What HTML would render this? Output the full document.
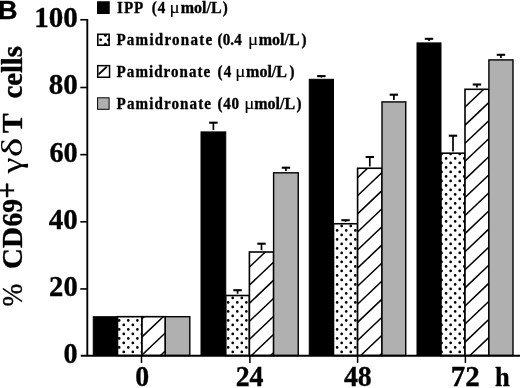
<!DOCTYPE html>
<html><head><meta charset="utf-8"><title>Figure B</title>
<style>
html,body{margin:0;padding:0;background:#fff;}
body{width:520px;height:388px;overflow:hidden;}
svg{display:block;will-change:transform;filter:grayscale(1);}
text{font-family:"Liberation Serif",serif;font-weight:bold;fill:#000;stroke:#000;stroke-width:0.35px;stroke-linejoin:round;}
.sans{font-family:"Liberation Sans",sans-serif;font-weight:bold;}
.sym{font-weight:normal;stroke-width:0.1px;}
</style></head><body>
<svg width="520" height="388" viewBox="0 0 520 388">
<rect width="520" height="388" fill="#fff"/>

<rect x="93.25" y="316.70" width="24.25" height="38.80" fill="#000" stroke="#000" stroke-width="1"/>
<clipPath id="c1"><rect x="117.50" y="316.70" width="24.50" height="38.80"/></clipPath>
<rect x="117.50" y="316.70" width="24.50" height="38.80" fill="#fff"/>
<g clip-path="url(#c1)">
<path d="M117.87,320.40a1.35,1.35 0 1,0 2.7,0a1.35,1.35 0 1,0 -2.7,0M117.87,329.40a1.35,1.35 0 1,0 2.7,0a1.35,1.35 0 1,0 -2.7,0M117.87,338.40a1.35,1.35 0 1,0 2.7,0a1.35,1.35 0 1,0 -2.7,0M117.87,347.40a1.35,1.35 0 1,0 2.7,0a1.35,1.35 0 1,0 -2.7,0M117.87,356.40a1.35,1.35 0 1,0 2.7,0a1.35,1.35 0 1,0 -2.7,0M126.95,320.40a1.35,1.35 0 1,0 2.7,0a1.35,1.35 0 1,0 -2.7,0M126.95,329.40a1.35,1.35 0 1,0 2.7,0a1.35,1.35 0 1,0 -2.7,0M126.95,338.40a1.35,1.35 0 1,0 2.7,0a1.35,1.35 0 1,0 -2.7,0M126.95,347.40a1.35,1.35 0 1,0 2.7,0a1.35,1.35 0 1,0 -2.7,0M126.95,356.40a1.35,1.35 0 1,0 2.7,0a1.35,1.35 0 1,0 -2.7,0M136.03,320.40a1.35,1.35 0 1,0 2.7,0a1.35,1.35 0 1,0 -2.7,0M136.03,329.40a1.35,1.35 0 1,0 2.7,0a1.35,1.35 0 1,0 -2.7,0M136.03,338.40a1.35,1.35 0 1,0 2.7,0a1.35,1.35 0 1,0 -2.7,0M136.03,347.40a1.35,1.35 0 1,0 2.7,0a1.35,1.35 0 1,0 -2.7,0M136.03,356.40a1.35,1.35 0 1,0 2.7,0a1.35,1.35 0 1,0 -2.7,0M122.41,315.90a1.35,1.35 0 1,0 2.7,0a1.35,1.35 0 1,0 -2.7,0M122.41,324.90a1.35,1.35 0 1,0 2.7,0a1.35,1.35 0 1,0 -2.7,0M122.41,333.90a1.35,1.35 0 1,0 2.7,0a1.35,1.35 0 1,0 -2.7,0M122.41,342.90a1.35,1.35 0 1,0 2.7,0a1.35,1.35 0 1,0 -2.7,0M122.41,351.90a1.35,1.35 0 1,0 2.7,0a1.35,1.35 0 1,0 -2.7,0M131.49,315.90a1.35,1.35 0 1,0 2.7,0a1.35,1.35 0 1,0 -2.7,0M131.49,324.90a1.35,1.35 0 1,0 2.7,0a1.35,1.35 0 1,0 -2.7,0M131.49,333.90a1.35,1.35 0 1,0 2.7,0a1.35,1.35 0 1,0 -2.7,0M131.49,342.90a1.35,1.35 0 1,0 2.7,0a1.35,1.35 0 1,0 -2.7,0M131.49,351.90a1.35,1.35 0 1,0 2.7,0a1.35,1.35 0 1,0 -2.7,0M140.57,315.90a1.35,1.35 0 1,0 2.7,0a1.35,1.35 0 1,0 -2.7,0M140.57,324.90a1.35,1.35 0 1,0 2.7,0a1.35,1.35 0 1,0 -2.7,0M140.57,333.90a1.35,1.35 0 1,0 2.7,0a1.35,1.35 0 1,0 -2.7,0M140.57,342.90a1.35,1.35 0 1,0 2.7,0a1.35,1.35 0 1,0 -2.7,0M140.57,351.90a1.35,1.35 0 1,0 2.7,0a1.35,1.35 0 1,0 -2.7,0" fill="#000"/>
</g>
<rect x="117.50" y="316.70" width="24.50" height="38.80" fill="none" stroke="#000" stroke-width="1.6"/>
<clipPath id="c2"><rect x="142.00" y="316.70" width="23.30" height="38.80"/></clipPath>
<rect x="142.00" y="316.70" width="23.30" height="38.80" fill="#fff"/>
<g clip-path="url(#c2)">
<path d="M139.00,285.51L168.30,257.67M139.00,303.59L168.30,275.75M139.00,321.67L168.30,293.83M139.00,339.75L168.30,311.91M139.00,357.83L168.30,329.99M139.00,375.91L168.30,348.07M139.00,393.99L168.30,366.15M139.00,412.07L168.30,384.23" stroke="#000" stroke-width="1.5" fill="none"/>
</g>
<rect x="142.00" y="316.70" width="23.30" height="38.80" fill="none" stroke="#000" stroke-width="1.6"/>
<rect x="165.30" y="316.70" width="24.50" height="38.80" fill="#b0b0b0" stroke="#000" stroke-width="1.4"/>
<rect x="201.00" y="131.90" width="24.75" height="223.60" fill="#000" stroke="#000" stroke-width="1"/>
<path d="M209.18,122.70 H217.57" stroke="#000" stroke-width="2.1" fill="none"/>
<path d="M213.38,122.50 V130.10" stroke="#000" stroke-width="1.7" fill="none"/>
<clipPath id="c3"><rect x="225.75" y="295.50" width="23.65" height="60.00"/></clipPath>
<rect x="225.75" y="295.50" width="23.65" height="60.00" fill="#fff"/>
<g clip-path="url(#c3)">
<path d="M226.83,302.40a1.35,1.35 0 1,0 2.7,0a1.35,1.35 0 1,0 -2.7,0M226.83,311.40a1.35,1.35 0 1,0 2.7,0a1.35,1.35 0 1,0 -2.7,0M226.83,320.40a1.35,1.35 0 1,0 2.7,0a1.35,1.35 0 1,0 -2.7,0M226.83,329.40a1.35,1.35 0 1,0 2.7,0a1.35,1.35 0 1,0 -2.7,0M226.83,338.40a1.35,1.35 0 1,0 2.7,0a1.35,1.35 0 1,0 -2.7,0M226.83,347.40a1.35,1.35 0 1,0 2.7,0a1.35,1.35 0 1,0 -2.7,0M226.83,356.40a1.35,1.35 0 1,0 2.7,0a1.35,1.35 0 1,0 -2.7,0M235.91,302.40a1.35,1.35 0 1,0 2.7,0a1.35,1.35 0 1,0 -2.7,0M235.91,311.40a1.35,1.35 0 1,0 2.7,0a1.35,1.35 0 1,0 -2.7,0M235.91,320.40a1.35,1.35 0 1,0 2.7,0a1.35,1.35 0 1,0 -2.7,0M235.91,329.40a1.35,1.35 0 1,0 2.7,0a1.35,1.35 0 1,0 -2.7,0M235.91,338.40a1.35,1.35 0 1,0 2.7,0a1.35,1.35 0 1,0 -2.7,0M235.91,347.40a1.35,1.35 0 1,0 2.7,0a1.35,1.35 0 1,0 -2.7,0M235.91,356.40a1.35,1.35 0 1,0 2.7,0a1.35,1.35 0 1,0 -2.7,0M244.99,302.40a1.35,1.35 0 1,0 2.7,0a1.35,1.35 0 1,0 -2.7,0M244.99,311.40a1.35,1.35 0 1,0 2.7,0a1.35,1.35 0 1,0 -2.7,0M244.99,320.40a1.35,1.35 0 1,0 2.7,0a1.35,1.35 0 1,0 -2.7,0M244.99,329.40a1.35,1.35 0 1,0 2.7,0a1.35,1.35 0 1,0 -2.7,0M244.99,338.40a1.35,1.35 0 1,0 2.7,0a1.35,1.35 0 1,0 -2.7,0M244.99,347.40a1.35,1.35 0 1,0 2.7,0a1.35,1.35 0 1,0 -2.7,0M244.99,356.40a1.35,1.35 0 1,0 2.7,0a1.35,1.35 0 1,0 -2.7,0M231.37,297.90a1.35,1.35 0 1,0 2.7,0a1.35,1.35 0 1,0 -2.7,0M231.37,306.90a1.35,1.35 0 1,0 2.7,0a1.35,1.35 0 1,0 -2.7,0M231.37,315.90a1.35,1.35 0 1,0 2.7,0a1.35,1.35 0 1,0 -2.7,0M231.37,324.90a1.35,1.35 0 1,0 2.7,0a1.35,1.35 0 1,0 -2.7,0M231.37,333.90a1.35,1.35 0 1,0 2.7,0a1.35,1.35 0 1,0 -2.7,0M231.37,342.90a1.35,1.35 0 1,0 2.7,0a1.35,1.35 0 1,0 -2.7,0M231.37,351.90a1.35,1.35 0 1,0 2.7,0a1.35,1.35 0 1,0 -2.7,0M240.45,297.90a1.35,1.35 0 1,0 2.7,0a1.35,1.35 0 1,0 -2.7,0M240.45,306.90a1.35,1.35 0 1,0 2.7,0a1.35,1.35 0 1,0 -2.7,0M240.45,315.90a1.35,1.35 0 1,0 2.7,0a1.35,1.35 0 1,0 -2.7,0M240.45,324.90a1.35,1.35 0 1,0 2.7,0a1.35,1.35 0 1,0 -2.7,0M240.45,333.90a1.35,1.35 0 1,0 2.7,0a1.35,1.35 0 1,0 -2.7,0M240.45,342.90a1.35,1.35 0 1,0 2.7,0a1.35,1.35 0 1,0 -2.7,0M240.45,351.90a1.35,1.35 0 1,0 2.7,0a1.35,1.35 0 1,0 -2.7,0M249.53,297.90a1.35,1.35 0 1,0 2.7,0a1.35,1.35 0 1,0 -2.7,0M249.53,306.90a1.35,1.35 0 1,0 2.7,0a1.35,1.35 0 1,0 -2.7,0M249.53,315.90a1.35,1.35 0 1,0 2.7,0a1.35,1.35 0 1,0 -2.7,0M249.53,324.90a1.35,1.35 0 1,0 2.7,0a1.35,1.35 0 1,0 -2.7,0M249.53,333.90a1.35,1.35 0 1,0 2.7,0a1.35,1.35 0 1,0 -2.7,0M249.53,342.90a1.35,1.35 0 1,0 2.7,0a1.35,1.35 0 1,0 -2.7,0M249.53,351.90a1.35,1.35 0 1,0 2.7,0a1.35,1.35 0 1,0 -2.7,0" fill="#000"/>
</g>
<rect x="225.75" y="295.50" width="23.65" height="60.00" fill="none" stroke="#000" stroke-width="1.6"/>
<path d="M233.38,290.20 H241.77" stroke="#000" stroke-width="2.1" fill="none"/>
<path d="M237.57,290.00 V293.70" stroke="#000" stroke-width="1.7" fill="none"/>
<clipPath id="c4"><rect x="249.40" y="252.00" width="24.20" height="103.50"/></clipPath>
<rect x="249.40" y="252.00" width="24.20" height="103.50" fill="#fff"/>
<g clip-path="url(#c4)">
<path d="M246.40,233.75L276.60,205.06M246.40,251.83L276.60,223.14M246.40,269.91L276.60,241.22M246.40,287.99L276.60,259.30M246.40,306.07L276.60,277.38M246.40,324.15L276.60,295.46M246.40,342.23L276.60,313.54M246.40,360.31L276.60,331.62M246.40,378.39L276.60,349.70M246.40,396.47L276.60,367.78M246.40,414.55L276.60,385.86" stroke="#000" stroke-width="1.5" fill="none"/>
</g>
<rect x="249.40" y="252.00" width="24.20" height="103.50" fill="none" stroke="#000" stroke-width="1.6"/>
<path d="M257.30,243.70 H265.70" stroke="#000" stroke-width="2.1" fill="none"/>
<path d="M261.50,243.50 V250.20" stroke="#000" stroke-width="1.7" fill="none"/>
<rect x="273.60" y="172.80" width="24.65" height="182.70" fill="#b0b0b0" stroke="#000" stroke-width="1.4"/>
<path d="M281.73,167.70 H290.12" stroke="#000" stroke-width="2.1" fill="none"/>
<path d="M285.93,167.50 V171.00" stroke="#000" stroke-width="1.7" fill="none"/>
<rect x="309.25" y="79.30" width="24.25" height="276.20" fill="#000" stroke="#000" stroke-width="1"/>
<path d="M317.18,76.10 H325.57" stroke="#000" stroke-width="2.1" fill="none"/>
<path d="M321.38,75.90 V77.50" stroke="#000" stroke-width="1.7" fill="none"/>
<clipPath id="c5"><rect x="333.50" y="223.75" width="24.10" height="131.75"/></clipPath>
<rect x="333.50" y="223.75" width="24.10" height="131.75" fill="#fff"/>
<g clip-path="url(#c5)">
<path d="M335.79,230.40a1.35,1.35 0 1,0 2.7,0a1.35,1.35 0 1,0 -2.7,0M335.79,239.40a1.35,1.35 0 1,0 2.7,0a1.35,1.35 0 1,0 -2.7,0M335.79,248.40a1.35,1.35 0 1,0 2.7,0a1.35,1.35 0 1,0 -2.7,0M335.79,257.40a1.35,1.35 0 1,0 2.7,0a1.35,1.35 0 1,0 -2.7,0M335.79,266.40a1.35,1.35 0 1,0 2.7,0a1.35,1.35 0 1,0 -2.7,0M335.79,275.40a1.35,1.35 0 1,0 2.7,0a1.35,1.35 0 1,0 -2.7,0M335.79,284.40a1.35,1.35 0 1,0 2.7,0a1.35,1.35 0 1,0 -2.7,0M335.79,293.40a1.35,1.35 0 1,0 2.7,0a1.35,1.35 0 1,0 -2.7,0M335.79,302.40a1.35,1.35 0 1,0 2.7,0a1.35,1.35 0 1,0 -2.7,0M335.79,311.40a1.35,1.35 0 1,0 2.7,0a1.35,1.35 0 1,0 -2.7,0M335.79,320.40a1.35,1.35 0 1,0 2.7,0a1.35,1.35 0 1,0 -2.7,0M335.79,329.40a1.35,1.35 0 1,0 2.7,0a1.35,1.35 0 1,0 -2.7,0M335.79,338.40a1.35,1.35 0 1,0 2.7,0a1.35,1.35 0 1,0 -2.7,0M335.79,347.40a1.35,1.35 0 1,0 2.7,0a1.35,1.35 0 1,0 -2.7,0M335.79,356.40a1.35,1.35 0 1,0 2.7,0a1.35,1.35 0 1,0 -2.7,0M344.87,230.40a1.35,1.35 0 1,0 2.7,0a1.35,1.35 0 1,0 -2.7,0M344.87,239.40a1.35,1.35 0 1,0 2.7,0a1.35,1.35 0 1,0 -2.7,0M344.87,248.40a1.35,1.35 0 1,0 2.7,0a1.35,1.35 0 1,0 -2.7,0M344.87,257.40a1.35,1.35 0 1,0 2.7,0a1.35,1.35 0 1,0 -2.7,0M344.87,266.40a1.35,1.35 0 1,0 2.7,0a1.35,1.35 0 1,0 -2.7,0M344.87,275.40a1.35,1.35 0 1,0 2.7,0a1.35,1.35 0 1,0 -2.7,0M344.87,284.40a1.35,1.35 0 1,0 2.7,0a1.35,1.35 0 1,0 -2.7,0M344.87,293.40a1.35,1.35 0 1,0 2.7,0a1.35,1.35 0 1,0 -2.7,0M344.87,302.40a1.35,1.35 0 1,0 2.7,0a1.35,1.35 0 1,0 -2.7,0M344.87,311.40a1.35,1.35 0 1,0 2.7,0a1.35,1.35 0 1,0 -2.7,0M344.87,320.40a1.35,1.35 0 1,0 2.7,0a1.35,1.35 0 1,0 -2.7,0M344.87,329.40a1.35,1.35 0 1,0 2.7,0a1.35,1.35 0 1,0 -2.7,0M344.87,338.40a1.35,1.35 0 1,0 2.7,0a1.35,1.35 0 1,0 -2.7,0M344.87,347.40a1.35,1.35 0 1,0 2.7,0a1.35,1.35 0 1,0 -2.7,0M344.87,356.40a1.35,1.35 0 1,0 2.7,0a1.35,1.35 0 1,0 -2.7,0M353.95,230.40a1.35,1.35 0 1,0 2.7,0a1.35,1.35 0 1,0 -2.7,0M353.95,239.40a1.35,1.35 0 1,0 2.7,0a1.35,1.35 0 1,0 -2.7,0M353.95,248.40a1.35,1.35 0 1,0 2.7,0a1.35,1.35 0 1,0 -2.7,0M353.95,257.40a1.35,1.35 0 1,0 2.7,0a1.35,1.35 0 1,0 -2.7,0M353.95,266.40a1.35,1.35 0 1,0 2.7,0a1.35,1.35 0 1,0 -2.7,0M353.95,275.40a1.35,1.35 0 1,0 2.7,0a1.35,1.35 0 1,0 -2.7,0M353.95,284.40a1.35,1.35 0 1,0 2.7,0a1.35,1.35 0 1,0 -2.7,0M353.95,293.40a1.35,1.35 0 1,0 2.7,0a1.35,1.35 0 1,0 -2.7,0M353.95,302.40a1.35,1.35 0 1,0 2.7,0a1.35,1.35 0 1,0 -2.7,0M353.95,311.40a1.35,1.35 0 1,0 2.7,0a1.35,1.35 0 1,0 -2.7,0M353.95,320.40a1.35,1.35 0 1,0 2.7,0a1.35,1.35 0 1,0 -2.7,0M353.95,329.40a1.35,1.35 0 1,0 2.7,0a1.35,1.35 0 1,0 -2.7,0M353.95,338.40a1.35,1.35 0 1,0 2.7,0a1.35,1.35 0 1,0 -2.7,0M353.95,347.40a1.35,1.35 0 1,0 2.7,0a1.35,1.35 0 1,0 -2.7,0M353.95,356.40a1.35,1.35 0 1,0 2.7,0a1.35,1.35 0 1,0 -2.7,0M331.25,225.90a1.35,1.35 0 1,0 2.7,0a1.35,1.35 0 1,0 -2.7,0M331.25,234.90a1.35,1.35 0 1,0 2.7,0a1.35,1.35 0 1,0 -2.7,0M331.25,243.90a1.35,1.35 0 1,0 2.7,0a1.35,1.35 0 1,0 -2.7,0M331.25,252.90a1.35,1.35 0 1,0 2.7,0a1.35,1.35 0 1,0 -2.7,0M331.25,261.90a1.35,1.35 0 1,0 2.7,0a1.35,1.35 0 1,0 -2.7,0M331.25,270.90a1.35,1.35 0 1,0 2.7,0a1.35,1.35 0 1,0 -2.7,0M331.25,279.90a1.35,1.35 0 1,0 2.7,0a1.35,1.35 0 1,0 -2.7,0M331.25,288.90a1.35,1.35 0 1,0 2.7,0a1.35,1.35 0 1,0 -2.7,0M331.25,297.90a1.35,1.35 0 1,0 2.7,0a1.35,1.35 0 1,0 -2.7,0M331.25,306.90a1.35,1.35 0 1,0 2.7,0a1.35,1.35 0 1,0 -2.7,0M331.25,315.90a1.35,1.35 0 1,0 2.7,0a1.35,1.35 0 1,0 -2.7,0M331.25,324.90a1.35,1.35 0 1,0 2.7,0a1.35,1.35 0 1,0 -2.7,0M331.25,333.90a1.35,1.35 0 1,0 2.7,0a1.35,1.35 0 1,0 -2.7,0M331.25,342.90a1.35,1.35 0 1,0 2.7,0a1.35,1.35 0 1,0 -2.7,0M331.25,351.90a1.35,1.35 0 1,0 2.7,0a1.35,1.35 0 1,0 -2.7,0M340.33,225.90a1.35,1.35 0 1,0 2.7,0a1.35,1.35 0 1,0 -2.7,0M340.33,234.90a1.35,1.35 0 1,0 2.7,0a1.35,1.35 0 1,0 -2.7,0M340.33,243.90a1.35,1.35 0 1,0 2.7,0a1.35,1.35 0 1,0 -2.7,0M340.33,252.90a1.35,1.35 0 1,0 2.7,0a1.35,1.35 0 1,0 -2.7,0M340.33,261.90a1.35,1.35 0 1,0 2.7,0a1.35,1.35 0 1,0 -2.7,0M340.33,270.90a1.35,1.35 0 1,0 2.7,0a1.35,1.35 0 1,0 -2.7,0M340.33,279.90a1.35,1.35 0 1,0 2.7,0a1.35,1.35 0 1,0 -2.7,0M340.33,288.90a1.35,1.35 0 1,0 2.7,0a1.35,1.35 0 1,0 -2.7,0M340.33,297.90a1.35,1.35 0 1,0 2.7,0a1.35,1.35 0 1,0 -2.7,0M340.33,306.90a1.35,1.35 0 1,0 2.7,0a1.35,1.35 0 1,0 -2.7,0M340.33,315.90a1.35,1.35 0 1,0 2.7,0a1.35,1.35 0 1,0 -2.7,0M340.33,324.90a1.35,1.35 0 1,0 2.7,0a1.35,1.35 0 1,0 -2.7,0M340.33,333.90a1.35,1.35 0 1,0 2.7,0a1.35,1.35 0 1,0 -2.7,0M340.33,342.90a1.35,1.35 0 1,0 2.7,0a1.35,1.35 0 1,0 -2.7,0M340.33,351.90a1.35,1.35 0 1,0 2.7,0a1.35,1.35 0 1,0 -2.7,0M349.41,225.90a1.35,1.35 0 1,0 2.7,0a1.35,1.35 0 1,0 -2.7,0M349.41,234.90a1.35,1.35 0 1,0 2.7,0a1.35,1.35 0 1,0 -2.7,0M349.41,243.90a1.35,1.35 0 1,0 2.7,0a1.35,1.35 0 1,0 -2.7,0M349.41,252.90a1.35,1.35 0 1,0 2.7,0a1.35,1.35 0 1,0 -2.7,0M349.41,261.90a1.35,1.35 0 1,0 2.7,0a1.35,1.35 0 1,0 -2.7,0M349.41,270.90a1.35,1.35 0 1,0 2.7,0a1.35,1.35 0 1,0 -2.7,0M349.41,279.90a1.35,1.35 0 1,0 2.7,0a1.35,1.35 0 1,0 -2.7,0M349.41,288.90a1.35,1.35 0 1,0 2.7,0a1.35,1.35 0 1,0 -2.7,0M349.41,297.90a1.35,1.35 0 1,0 2.7,0a1.35,1.35 0 1,0 -2.7,0M349.41,306.90a1.35,1.35 0 1,0 2.7,0a1.35,1.35 0 1,0 -2.7,0M349.41,315.90a1.35,1.35 0 1,0 2.7,0a1.35,1.35 0 1,0 -2.7,0M349.41,324.90a1.35,1.35 0 1,0 2.7,0a1.35,1.35 0 1,0 -2.7,0M349.41,333.90a1.35,1.35 0 1,0 2.7,0a1.35,1.35 0 1,0 -2.7,0M349.41,342.90a1.35,1.35 0 1,0 2.7,0a1.35,1.35 0 1,0 -2.7,0M349.41,351.90a1.35,1.35 0 1,0 2.7,0a1.35,1.35 0 1,0 -2.7,0" fill="#000"/>
</g>
<rect x="333.50" y="223.75" width="24.10" height="131.75" fill="none" stroke="#000" stroke-width="1.6"/>
<path d="M341.35,220.20 H349.75" stroke="#000" stroke-width="2.1" fill="none"/>
<path d="M345.55,220.00 V221.95" stroke="#000" stroke-width="1.7" fill="none"/>
<clipPath id="c6"><rect x="357.60" y="168.25" width="24.40" height="187.25"/></clipPath>
<rect x="357.60" y="168.25" width="24.40" height="187.25" fill="#fff"/>
<g clip-path="url(#c6)">
<path d="M354.60,144.35L385.00,115.47M354.60,162.43L385.00,133.55M354.60,180.51L385.00,151.63M354.60,198.59L385.00,169.71M354.60,216.67L385.00,187.79M354.60,234.75L385.00,205.87M354.60,252.83L385.00,223.95M354.60,270.91L385.00,242.03M354.60,288.99L385.00,260.11M354.60,307.07L385.00,278.19M354.60,325.15L385.00,296.27M354.60,343.23L385.00,314.35M354.60,361.31L385.00,332.43M354.60,379.39L385.00,350.51M354.60,397.47L385.00,368.59M354.60,415.55L385.00,386.67" stroke="#000" stroke-width="1.5" fill="none"/>
</g>
<rect x="357.60" y="168.25" width="24.40" height="187.25" fill="none" stroke="#000" stroke-width="1.6"/>
<path d="M365.60,157.00 H374.00" stroke="#000" stroke-width="2.1" fill="none"/>
<path d="M369.80,156.80 V166.45" stroke="#000" stroke-width="1.7" fill="none"/>
<rect x="382.00" y="101.90" width="23.75" height="253.60" fill="#b0b0b0" stroke="#000" stroke-width="1.4"/>
<path d="M389.68,94.70 H398.07" stroke="#000" stroke-width="2.1" fill="none"/>
<path d="M393.88,94.50 V100.10" stroke="#000" stroke-width="1.7" fill="none"/>
<rect x="417.00" y="42.90" width="24.00" height="312.60" fill="#000" stroke="#000" stroke-width="1"/>
<path d="M424.80,38.80 H433.20" stroke="#000" stroke-width="2.1" fill="none"/>
<path d="M429.00,38.60 V41.10" stroke="#000" stroke-width="1.7" fill="none"/>
<clipPath id="c7"><rect x="441.00" y="153.20" width="24.00" height="202.30"/></clipPath>
<rect x="441.00" y="153.20" width="24.00" height="202.30" fill="#fff"/>
<g clip-path="url(#c7)">
<path d="M444.75,158.40a1.35,1.35 0 1,0 2.7,0a1.35,1.35 0 1,0 -2.7,0M444.75,167.40a1.35,1.35 0 1,0 2.7,0a1.35,1.35 0 1,0 -2.7,0M444.75,176.40a1.35,1.35 0 1,0 2.7,0a1.35,1.35 0 1,0 -2.7,0M444.75,185.40a1.35,1.35 0 1,0 2.7,0a1.35,1.35 0 1,0 -2.7,0M444.75,194.40a1.35,1.35 0 1,0 2.7,0a1.35,1.35 0 1,0 -2.7,0M444.75,203.40a1.35,1.35 0 1,0 2.7,0a1.35,1.35 0 1,0 -2.7,0M444.75,212.40a1.35,1.35 0 1,0 2.7,0a1.35,1.35 0 1,0 -2.7,0M444.75,221.40a1.35,1.35 0 1,0 2.7,0a1.35,1.35 0 1,0 -2.7,0M444.75,230.40a1.35,1.35 0 1,0 2.7,0a1.35,1.35 0 1,0 -2.7,0M444.75,239.40a1.35,1.35 0 1,0 2.7,0a1.35,1.35 0 1,0 -2.7,0M444.75,248.40a1.35,1.35 0 1,0 2.7,0a1.35,1.35 0 1,0 -2.7,0M444.75,257.40a1.35,1.35 0 1,0 2.7,0a1.35,1.35 0 1,0 -2.7,0M444.75,266.40a1.35,1.35 0 1,0 2.7,0a1.35,1.35 0 1,0 -2.7,0M444.75,275.40a1.35,1.35 0 1,0 2.7,0a1.35,1.35 0 1,0 -2.7,0M444.75,284.40a1.35,1.35 0 1,0 2.7,0a1.35,1.35 0 1,0 -2.7,0M444.75,293.40a1.35,1.35 0 1,0 2.7,0a1.35,1.35 0 1,0 -2.7,0M444.75,302.40a1.35,1.35 0 1,0 2.7,0a1.35,1.35 0 1,0 -2.7,0M444.75,311.40a1.35,1.35 0 1,0 2.7,0a1.35,1.35 0 1,0 -2.7,0M444.75,320.40a1.35,1.35 0 1,0 2.7,0a1.35,1.35 0 1,0 -2.7,0M444.75,329.40a1.35,1.35 0 1,0 2.7,0a1.35,1.35 0 1,0 -2.7,0M444.75,338.40a1.35,1.35 0 1,0 2.7,0a1.35,1.35 0 1,0 -2.7,0M444.75,347.40a1.35,1.35 0 1,0 2.7,0a1.35,1.35 0 1,0 -2.7,0M444.75,356.40a1.35,1.35 0 1,0 2.7,0a1.35,1.35 0 1,0 -2.7,0M453.83,158.40a1.35,1.35 0 1,0 2.7,0a1.35,1.35 0 1,0 -2.7,0M453.83,167.40a1.35,1.35 0 1,0 2.7,0a1.35,1.35 0 1,0 -2.7,0M453.83,176.40a1.35,1.35 0 1,0 2.7,0a1.35,1.35 0 1,0 -2.7,0M453.83,185.40a1.35,1.35 0 1,0 2.7,0a1.35,1.35 0 1,0 -2.7,0M453.83,194.40a1.35,1.35 0 1,0 2.7,0a1.35,1.35 0 1,0 -2.7,0M453.83,203.40a1.35,1.35 0 1,0 2.7,0a1.35,1.35 0 1,0 -2.7,0M453.83,212.40a1.35,1.35 0 1,0 2.7,0a1.35,1.35 0 1,0 -2.7,0M453.83,221.40a1.35,1.35 0 1,0 2.7,0a1.35,1.35 0 1,0 -2.7,0M453.83,230.40a1.35,1.35 0 1,0 2.7,0a1.35,1.35 0 1,0 -2.7,0M453.83,239.40a1.35,1.35 0 1,0 2.7,0a1.35,1.35 0 1,0 -2.7,0M453.83,248.40a1.35,1.35 0 1,0 2.7,0a1.35,1.35 0 1,0 -2.7,0M453.83,257.40a1.35,1.35 0 1,0 2.7,0a1.35,1.35 0 1,0 -2.7,0M453.83,266.40a1.35,1.35 0 1,0 2.7,0a1.35,1.35 0 1,0 -2.7,0M453.83,275.40a1.35,1.35 0 1,0 2.7,0a1.35,1.35 0 1,0 -2.7,0M453.83,284.40a1.35,1.35 0 1,0 2.7,0a1.35,1.35 0 1,0 -2.7,0M453.83,293.40a1.35,1.35 0 1,0 2.7,0a1.35,1.35 0 1,0 -2.7,0M453.83,302.40a1.35,1.35 0 1,0 2.7,0a1.35,1.35 0 1,0 -2.7,0M453.83,311.40a1.35,1.35 0 1,0 2.7,0a1.35,1.35 0 1,0 -2.7,0M453.83,320.40a1.35,1.35 0 1,0 2.7,0a1.35,1.35 0 1,0 -2.7,0M453.83,329.40a1.35,1.35 0 1,0 2.7,0a1.35,1.35 0 1,0 -2.7,0M453.83,338.40a1.35,1.35 0 1,0 2.7,0a1.35,1.35 0 1,0 -2.7,0M453.83,347.40a1.35,1.35 0 1,0 2.7,0a1.35,1.35 0 1,0 -2.7,0M453.83,356.40a1.35,1.35 0 1,0 2.7,0a1.35,1.35 0 1,0 -2.7,0M462.91,158.40a1.35,1.35 0 1,0 2.7,0a1.35,1.35 0 1,0 -2.7,0M462.91,167.40a1.35,1.35 0 1,0 2.7,0a1.35,1.35 0 1,0 -2.7,0M462.91,176.40a1.35,1.35 0 1,0 2.7,0a1.35,1.35 0 1,0 -2.7,0M462.91,185.40a1.35,1.35 0 1,0 2.7,0a1.35,1.35 0 1,0 -2.7,0M462.91,194.40a1.35,1.35 0 1,0 2.7,0a1.35,1.35 0 1,0 -2.7,0M462.91,203.40a1.35,1.35 0 1,0 2.7,0a1.35,1.35 0 1,0 -2.7,0M462.91,212.40a1.35,1.35 0 1,0 2.7,0a1.35,1.35 0 1,0 -2.7,0M462.91,221.40a1.35,1.35 0 1,0 2.7,0a1.35,1.35 0 1,0 -2.7,0M462.91,230.40a1.35,1.35 0 1,0 2.7,0a1.35,1.35 0 1,0 -2.7,0M462.91,239.40a1.35,1.35 0 1,0 2.7,0a1.35,1.35 0 1,0 -2.7,0M462.91,248.40a1.35,1.35 0 1,0 2.7,0a1.35,1.35 0 1,0 -2.7,0M462.91,257.40a1.35,1.35 0 1,0 2.7,0a1.35,1.35 0 1,0 -2.7,0M462.91,266.40a1.35,1.35 0 1,0 2.7,0a1.35,1.35 0 1,0 -2.7,0M462.91,275.40a1.35,1.35 0 1,0 2.7,0a1.35,1.35 0 1,0 -2.7,0M462.91,284.40a1.35,1.35 0 1,0 2.7,0a1.35,1.35 0 1,0 -2.7,0M462.91,293.40a1.35,1.35 0 1,0 2.7,0a1.35,1.35 0 1,0 -2.7,0M462.91,302.40a1.35,1.35 0 1,0 2.7,0a1.35,1.35 0 1,0 -2.7,0M462.91,311.40a1.35,1.35 0 1,0 2.7,0a1.35,1.35 0 1,0 -2.7,0M462.91,320.40a1.35,1.35 0 1,0 2.7,0a1.35,1.35 0 1,0 -2.7,0M462.91,329.40a1.35,1.35 0 1,0 2.7,0a1.35,1.35 0 1,0 -2.7,0M462.91,338.40a1.35,1.35 0 1,0 2.7,0a1.35,1.35 0 1,0 -2.7,0M462.91,347.40a1.35,1.35 0 1,0 2.7,0a1.35,1.35 0 1,0 -2.7,0M462.91,356.40a1.35,1.35 0 1,0 2.7,0a1.35,1.35 0 1,0 -2.7,0M440.21,153.90a1.35,1.35 0 1,0 2.7,0a1.35,1.35 0 1,0 -2.7,0M440.21,162.90a1.35,1.35 0 1,0 2.7,0a1.35,1.35 0 1,0 -2.7,0M440.21,171.90a1.35,1.35 0 1,0 2.7,0a1.35,1.35 0 1,0 -2.7,0M440.21,180.90a1.35,1.35 0 1,0 2.7,0a1.35,1.35 0 1,0 -2.7,0M440.21,189.90a1.35,1.35 0 1,0 2.7,0a1.35,1.35 0 1,0 -2.7,0M440.21,198.90a1.35,1.35 0 1,0 2.7,0a1.35,1.35 0 1,0 -2.7,0M440.21,207.90a1.35,1.35 0 1,0 2.7,0a1.35,1.35 0 1,0 -2.7,0M440.21,216.90a1.35,1.35 0 1,0 2.7,0a1.35,1.35 0 1,0 -2.7,0M440.21,225.90a1.35,1.35 0 1,0 2.7,0a1.35,1.35 0 1,0 -2.7,0M440.21,234.90a1.35,1.35 0 1,0 2.7,0a1.35,1.35 0 1,0 -2.7,0M440.21,243.90a1.35,1.35 0 1,0 2.7,0a1.35,1.35 0 1,0 -2.7,0M440.21,252.90a1.35,1.35 0 1,0 2.7,0a1.35,1.35 0 1,0 -2.7,0M440.21,261.90a1.35,1.35 0 1,0 2.7,0a1.35,1.35 0 1,0 -2.7,0M440.21,270.90a1.35,1.35 0 1,0 2.7,0a1.35,1.35 0 1,0 -2.7,0M440.21,279.90a1.35,1.35 0 1,0 2.7,0a1.35,1.35 0 1,0 -2.7,0M440.21,288.90a1.35,1.35 0 1,0 2.7,0a1.35,1.35 0 1,0 -2.7,0M440.21,297.90a1.35,1.35 0 1,0 2.7,0a1.35,1.35 0 1,0 -2.7,0M440.21,306.90a1.35,1.35 0 1,0 2.7,0a1.35,1.35 0 1,0 -2.7,0M440.21,315.90a1.35,1.35 0 1,0 2.7,0a1.35,1.35 0 1,0 -2.7,0M440.21,324.90a1.35,1.35 0 1,0 2.7,0a1.35,1.35 0 1,0 -2.7,0M440.21,333.90a1.35,1.35 0 1,0 2.7,0a1.35,1.35 0 1,0 -2.7,0M440.21,342.90a1.35,1.35 0 1,0 2.7,0a1.35,1.35 0 1,0 -2.7,0M440.21,351.90a1.35,1.35 0 1,0 2.7,0a1.35,1.35 0 1,0 -2.7,0M449.29,153.90a1.35,1.35 0 1,0 2.7,0a1.35,1.35 0 1,0 -2.7,0M449.29,162.90a1.35,1.35 0 1,0 2.7,0a1.35,1.35 0 1,0 -2.7,0M449.29,171.90a1.35,1.35 0 1,0 2.7,0a1.35,1.35 0 1,0 -2.7,0M449.29,180.90a1.35,1.35 0 1,0 2.7,0a1.35,1.35 0 1,0 -2.7,0M449.29,189.90a1.35,1.35 0 1,0 2.7,0a1.35,1.35 0 1,0 -2.7,0M449.29,198.90a1.35,1.35 0 1,0 2.7,0a1.35,1.35 0 1,0 -2.7,0M449.29,207.90a1.35,1.35 0 1,0 2.7,0a1.35,1.35 0 1,0 -2.7,0M449.29,216.90a1.35,1.35 0 1,0 2.7,0a1.35,1.35 0 1,0 -2.7,0M449.29,225.90a1.35,1.35 0 1,0 2.7,0a1.35,1.35 0 1,0 -2.7,0M449.29,234.90a1.35,1.35 0 1,0 2.7,0a1.35,1.35 0 1,0 -2.7,0M449.29,243.90a1.35,1.35 0 1,0 2.7,0a1.35,1.35 0 1,0 -2.7,0M449.29,252.90a1.35,1.35 0 1,0 2.7,0a1.35,1.35 0 1,0 -2.7,0M449.29,261.90a1.35,1.35 0 1,0 2.7,0a1.35,1.35 0 1,0 -2.7,0M449.29,270.90a1.35,1.35 0 1,0 2.7,0a1.35,1.35 0 1,0 -2.7,0M449.29,279.90a1.35,1.35 0 1,0 2.7,0a1.35,1.35 0 1,0 -2.7,0M449.29,288.90a1.35,1.35 0 1,0 2.7,0a1.35,1.35 0 1,0 -2.7,0M449.29,297.90a1.35,1.35 0 1,0 2.7,0a1.35,1.35 0 1,0 -2.7,0M449.29,306.90a1.35,1.35 0 1,0 2.7,0a1.35,1.35 0 1,0 -2.7,0M449.29,315.90a1.35,1.35 0 1,0 2.7,0a1.35,1.35 0 1,0 -2.7,0M449.29,324.90a1.35,1.35 0 1,0 2.7,0a1.35,1.35 0 1,0 -2.7,0M449.29,333.90a1.35,1.35 0 1,0 2.7,0a1.35,1.35 0 1,0 -2.7,0M449.29,342.90a1.35,1.35 0 1,0 2.7,0a1.35,1.35 0 1,0 -2.7,0M449.29,351.90a1.35,1.35 0 1,0 2.7,0a1.35,1.35 0 1,0 -2.7,0M458.37,153.90a1.35,1.35 0 1,0 2.7,0a1.35,1.35 0 1,0 -2.7,0M458.37,162.90a1.35,1.35 0 1,0 2.7,0a1.35,1.35 0 1,0 -2.7,0M458.37,171.90a1.35,1.35 0 1,0 2.7,0a1.35,1.35 0 1,0 -2.7,0M458.37,180.90a1.35,1.35 0 1,0 2.7,0a1.35,1.35 0 1,0 -2.7,0M458.37,189.90a1.35,1.35 0 1,0 2.7,0a1.35,1.35 0 1,0 -2.7,0M458.37,198.90a1.35,1.35 0 1,0 2.7,0a1.35,1.35 0 1,0 -2.7,0M458.37,207.90a1.35,1.35 0 1,0 2.7,0a1.35,1.35 0 1,0 -2.7,0M458.37,216.90a1.35,1.35 0 1,0 2.7,0a1.35,1.35 0 1,0 -2.7,0M458.37,225.90a1.35,1.35 0 1,0 2.7,0a1.35,1.35 0 1,0 -2.7,0M458.37,234.90a1.35,1.35 0 1,0 2.7,0a1.35,1.35 0 1,0 -2.7,0M458.37,243.90a1.35,1.35 0 1,0 2.7,0a1.35,1.35 0 1,0 -2.7,0M458.37,252.90a1.35,1.35 0 1,0 2.7,0a1.35,1.35 0 1,0 -2.7,0M458.37,261.90a1.35,1.35 0 1,0 2.7,0a1.35,1.35 0 1,0 -2.7,0M458.37,270.90a1.35,1.35 0 1,0 2.7,0a1.35,1.35 0 1,0 -2.7,0M458.37,279.90a1.35,1.35 0 1,0 2.7,0a1.35,1.35 0 1,0 -2.7,0M458.37,288.90a1.35,1.35 0 1,0 2.7,0a1.35,1.35 0 1,0 -2.7,0M458.37,297.90a1.35,1.35 0 1,0 2.7,0a1.35,1.35 0 1,0 -2.7,0M458.37,306.90a1.35,1.35 0 1,0 2.7,0a1.35,1.35 0 1,0 -2.7,0M458.37,315.90a1.35,1.35 0 1,0 2.7,0a1.35,1.35 0 1,0 -2.7,0M458.37,324.90a1.35,1.35 0 1,0 2.7,0a1.35,1.35 0 1,0 -2.7,0M458.37,333.90a1.35,1.35 0 1,0 2.7,0a1.35,1.35 0 1,0 -2.7,0M458.37,342.90a1.35,1.35 0 1,0 2.7,0a1.35,1.35 0 1,0 -2.7,0M458.37,351.90a1.35,1.35 0 1,0 2.7,0a1.35,1.35 0 1,0 -2.7,0" fill="#000"/>
</g>
<rect x="441.00" y="153.20" width="24.00" height="202.30" fill="none" stroke="#000" stroke-width="1.6"/>
<path d="M448.80,135.70 H457.20" stroke="#000" stroke-width="2.1" fill="none"/>
<path d="M453.00,135.50 V151.40" stroke="#000" stroke-width="1.7" fill="none"/>
<clipPath id="c8"><rect x="465.00" y="89.30" width="23.90" height="266.20"/></clipPath>
<rect x="465.00" y="89.30" width="23.90" height="266.20" fill="#fff"/>
<g clip-path="url(#c8)">
<path d="M462.00,73.75L491.90,45.35M462.00,91.83L491.90,63.43M462.00,109.91L491.90,81.51M462.00,127.99L491.90,99.59M462.00,146.07L491.90,117.67M462.00,164.15L491.90,135.75M462.00,182.23L491.90,153.83M462.00,200.31L491.90,171.91M462.00,218.39L491.90,189.99M462.00,236.47L491.90,208.07M462.00,254.55L491.90,226.15M462.00,272.63L491.90,244.23M462.00,290.71L491.90,262.31M462.00,308.79L491.90,280.39M462.00,326.87L491.90,298.47M462.00,344.95L491.90,316.55M462.00,363.03L491.90,334.62M462.00,381.11L491.90,352.71M462.00,399.19L491.90,370.79" stroke="#000" stroke-width="1.5" fill="none"/>
</g>
<rect x="465.00" y="89.30" width="23.90" height="266.20" fill="none" stroke="#000" stroke-width="1.6"/>
<path d="M472.75,84.50 H481.15" stroke="#000" stroke-width="2.1" fill="none"/>
<path d="M476.95,84.30 V87.50" stroke="#000" stroke-width="1.7" fill="none"/>
<rect x="488.90" y="59.90" width="24.10" height="295.60" fill="#b0b0b0" stroke="#000" stroke-width="1.4"/>
<path d="M496.75,54.80 H505.15" stroke="#000" stroke-width="2.1" fill="none"/>
<path d="M500.95,54.60 V58.10" stroke="#000" stroke-width="1.7" fill="none"/>
<path d="M87.3,19 V355.5" stroke="#000" stroke-width="1.9" fill="none"/>
<path d="M80.8,355.8 H520" stroke="#000" stroke-width="2.1" fill="none"/>
<path d="M80.3,288.95 H87" stroke="#000" stroke-width="1.6"/>
<path d="M80.3,221.80 H87" stroke="#000" stroke-width="1.6"/>
<path d="M80.3,154.65 H87" stroke="#000" stroke-width="1.6"/>
<path d="M80.3,87.50 H87" stroke="#000" stroke-width="1.6"/>
<path d="M80.3,19.75 H87" stroke="#000" stroke-width="1.6"/>
<path d="M141.50,355.5 V363" stroke="#000" stroke-width="1.5"/>
<path d="M249.90,355.5 V363" stroke="#000" stroke-width="1.5"/>
<path d="M357.60,355.5 V363" stroke="#000" stroke-width="1.5"/>
<path d="M465.40,355.5 V363" stroke="#000" stroke-width="1.5"/>
<text transform="translate(77.7,363.00) scale(0.955,1)" font-size="29.5" text-anchor="end">0</text>
<text transform="translate(77.7,295.85) scale(0.97,1)" font-size="29.5" text-anchor="end">20</text>
<text transform="translate(77.7,228.70) scale(0.98,1)" font-size="29.5" text-anchor="end">40</text>
<text transform="translate(77.7,161.55) scale(0.96,1)" font-size="29.5" text-anchor="end">60</text>
<text transform="translate(77.7,94.40) scale(0.985,1)" font-size="29.5" text-anchor="end">80</text>
<text transform="translate(77.7,27.25) scale(0.985,1)" font-size="29.5" text-anchor="end">100</text>
<text transform="translate(142.20,386.4) scale(0.96,1)" font-size="29" text-anchor="middle">0</text>
<text transform="translate(249.60,386.4) scale(0.96,1)" font-size="29" text-anchor="middle">24</text>
<text transform="translate(357.80,386.4) scale(0.96,1)" font-size="29" text-anchor="middle">48</text>
<text transform="translate(465.20,386.4) scale(1.0,1)" font-size="29" text-anchor="middle">72</text>
<text transform="translate(495.1,386.4) scale(0.98,1)" font-size="27">h</text>
<text class="sans" transform="translate(-2,18.6) scale(1.06,1)" font-size="25.5">B</text>
<g transform="translate(21.8,0) rotate(-90)">
<text y="0" font-size="29.5"><tspan x="-306.60" font-size="29.8" textLength="22.72" lengthAdjust="spacingAndGlyphs" style="font-weight:normal;">%</tspan> <tspan x="-268.90" font-size="29.5" textLength="41.76" lengthAdjust="spacingAndGlyphs">CD</tspan><tspan x="-226.60" font-size="29.5" textLength="27.44" lengthAdjust="spacingAndGlyphs">69</tspan><tspan x="-198.40" dy="-5.2" font-size="30" textLength="16.25" lengthAdjust="spacingAndGlyphs">+</tspan> <tspan x="-173.60" dy="5.2" font-size="29.5" textLength="15.92" lengthAdjust="spacingAndGlyphs" style="font-weight:normal;stroke-width:0.1px;">γ</tspan><tspan x="-157.30" font-size="29.5" textLength="19.47" lengthAdjust="spacingAndGlyphs" style="font-weight:normal;stroke-width:0.1px;">δ</tspan> <tspan x="-132.90" font-size="29.5" textLength="19.10" lengthAdjust="spacingAndGlyphs">T</tspan> <tspan x="-98.60" font-size="29.5" textLength="52.60" lengthAdjust="spacingAndGlyphs">cells</tspan></text>
</g>
<rect x="97" y="1.25" width="12.75" height="12.75" fill="#000"/>
<g><rect x="97.8" y="34.3" width="11.3" height="10.9" fill="#fff" stroke="#000" stroke-width="1.6"/><circle cx="100.7" cy="39.8" r="1.4"/><circle cx="105.4" cy="35.4" r="1.4"/><circle cx="105.4" cy="44.2" r="1.4"/><circle cx="108.4" cy="39.8" r="1.4"/></g>
<g><rect x="97.75" y="65.65" width="11.8" height="11.6" fill="#fff" stroke="#000" stroke-width="1.5"/><path d="M98.6,74.4 L106.8,66.8" stroke="#000" stroke-width="1.9"/></g>
<rect x="97.6" y="97.8" width="11.5" height="11.5" fill="#b0b0b0" stroke="#000" stroke-width="1"/>
<text transform="translate(0,13) scale(0.93,1)" font-size="16.2"><tspan x="125.81" textLength="28.28">IPP</tspan> <tspan x="163.17" textLength="14.52">(4</tspan> <tspan x="182.15" font-size="16.5" class="sym" textLength="10.96" lengthAdjust="spacingAndGlyphs">μ</tspan><tspan x="194.30" font-size="16" textLength="43.97" lengthAdjust="spacingAndGlyphs">mol/L</tspan><tspan x="239.62">)</tspan></text>
<text transform="translate(0,45) scale(0.93,1)" font-size="16.2"><tspan x="125.16" textLength="103.01">Pamidronate</tspan> <tspan x="233.87" textLength="26.02">(0.4</tspan> <tspan x="266.77" font-size="16.5" class="sym" textLength="10.96" lengthAdjust="spacingAndGlyphs">μ</tspan><tspan x="278.28" font-size="16" textLength="43.97" lengthAdjust="spacingAndGlyphs">mol/L</tspan><tspan x="324.19">)</tspan></text>
<text transform="translate(0,77.2) scale(0.93,1)" font-size="16.2"><tspan x="125.38" textLength="100.75">Pamidronate</tspan> <tspan x="233.87" textLength="14.78">(4</tspan> <tspan x="253.06" font-size="16.5" class="sym" textLength="10.96" lengthAdjust="spacingAndGlyphs">μ</tspan><tspan x="264.62" font-size="16" textLength="43.97" lengthAdjust="spacingAndGlyphs">mol/L</tspan><tspan x="311.18">)</tspan></text>
<text transform="translate(0,108.7) scale(0.93,1)" font-size="16.2"><tspan x="125.38" textLength="101.51">Pamidronate</tspan> <tspan x="233.87" textLength="23.23">(40</tspan> <tspan x="262.69" font-size="16.5" class="sym" textLength="10.96" lengthAdjust="spacingAndGlyphs">μ</tspan><tspan x="273.33" font-size="16" textLength="43.97" lengthAdjust="spacingAndGlyphs">mol/L</tspan><tspan x="318.92">)</tspan></text>
</svg></body></html>
